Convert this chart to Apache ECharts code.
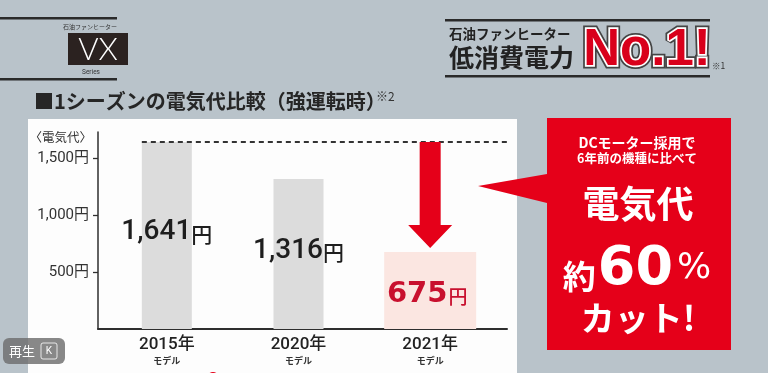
<!DOCTYPE html>
<html><head><meta charset="utf-8">
<script src="https://cdn.jsdelivr.net/npm/echarts@6/dist/echarts.min.js"></script>
<style>html,body{margin:0;padding:0;background:#b9c3ca}#c{width:768px;height:373px}</style>
</head><body><div id="c"></div>
<script>
// ---- data ----
const categories = ['2015年', '2020年', '2021年'];
const oldModelCost = [1641, 1316, null];
const newModelCost = [null, null, 675];
const yTickValues = [500, 1000, 1500];
const yAxisMax = 1728;

const JP = '"Noto Sans CJK JP", sans-serif';
const NUM = 'Roboto, "Noto Sans CJK JP", sans-serif';
const RED = '#e50019';

function fmt(v) { return String(v).replace(/\B(?=(\d{3})+(?!\d))/g, ','); }

const chart = echarts.init(document.getElementById('c'), null, { renderer: 'canvas' });

const gridTop = 132, gridBottom = 44;

function staticGraphics() {
  return [
    // white panel
    { type: 'rect', z: -10, silent: true, shape: { x: 28, y: 119, width: 489, height: 260 }, style: { fill: '#fdfdfd' } },
    // logo top-left
    { type: 'rect', shape: { x: 0, y: 17, width: 117, height: 2.5 }, style: { fill: '#2a2a2a' } },
    { type: 'rect', shape: { x: 0, y: 78, width: 117, height: 2.5 }, style: { fill: '#2a2a2a' } },
    { type: 'text', style: { x: 90, y: 27, text: '石油ファンヒーター', fontSize: 6, fontFamily: JP, fill: '#333', align: 'center', verticalAlign: 'middle' } },
    { type: 'rect', shape: { x: 68, y: 33, width: 60, height: 32 }, style: { fill: '#2b2220' } },
    { type: 'text', style: { x: 98, y: 50, text: 'VX', fontSize: 31, fontWeight: 300, fontFamily: 'Lato, Roboto, sans-serif', fill: '#fff', align: 'center', verticalAlign: 'middle' } },
    { type: 'text', style: { x: 91, y: 72, text: 'Series', fontSize: 6.5, fontFamily: NUM, fill: '#333', align: 'center', verticalAlign: 'middle' } },
    // chart title
    { type: 'text', style: { x: 34, y: 101, text: '■1シーズンの電気代比較（強運転時）', fontSize: 20, fontWeight: 'bold', fontFamily: JP, fill: '#262626', verticalAlign: 'middle' } },
    { type: 'text', style: { x: 376, y: 96, text: '※2', fontSize: 12, fontFamily: JP, fill: '#333', verticalAlign: 'middle' } },
    // header top-right
    { type: 'rect', shape: { x: 445, y: 19, width: 265, height: 2.5 }, style: { fill: '#2a2a2a' } },
    { type: 'rect', shape: { x: 445, y: 75, width: 265, height: 2.5 }, style: { fill: '#2a2a2a' } },
    { type: 'text', style: { x: 449, y: 34, text: '石油ファンヒーター', fontSize: 13.5, fontWeight: 'bold', fontFamily: JP, fill: '#222', verticalAlign: 'middle' } },
    { type: 'text', style: { x: 449, y: 57, text: '低消費電力', fontSize: 25, fontWeight: 'bold', fontFamily: JP, fill: '#222', verticalAlign: 'middle' } },
    { type: 'text', style: { x: 647, y: 51, text: 'No.1!', fontSize: 51, fontWeight: 'bold', fontFamily: '"Liberation Sans", Arial, sans-serif', fill: '#444', stroke: '#444', lineWidth: 7, align: 'center', verticalAlign: 'middle' } },
    { type: 'text', style: { x: 647, y: 51, text: 'No.1!', fontSize: 51, fontWeight: 'bold', fontFamily: '"Liberation Sans", Arial, sans-serif', fill: '#d9001b', stroke: '#fff', lineWidth: 3.5, align: 'center', verticalAlign: 'middle' } },
    { type: 'text', style: { x: 712, y: 66, text: '※1', fontSize: 8.5, fontFamily: JP, fill: '#333', verticalAlign: 'middle' } },
    // callout box
    { type: 'polygon', z: 50, shape: { points: [[547, 118], [731, 118], [731, 350], [547, 350], [547, 203], [478, 186], [547, 174]] }, style: { fill: RED } },
    { type: 'text', z: 51, style: { x: 637, y: 143, text: 'DCモーター採用で', fontSize: 14, fontWeight: 'bold', fontFamily: JP, fill: '#fff', align: 'center', verticalAlign: 'middle' } },
    { type: 'text', z: 51, style: { x: 637, y: 158, text: '6年前の機種に比べて', fontSize: 12.5, fontWeight: 'bold', fontFamily: JP, fill: '#fff', align: 'center', verticalAlign: 'middle' } },
    { type: 'text', z: 51, style: { x: 638, y: 204, text: '電気代', fontSize: 37, fontWeight: 'bold', fontFamily: JP, fill: '#fff', align: 'center', verticalAlign: 'middle' } },
    { type: 'text', z: 51, style: { x: 637, y: 270, text: '{a|約}{b|60}{c|%}', align: 'center', verticalAlign: 'middle',
        rich: { a: { fontSize: 33, fontWeight: 'bold', fontFamily: JP, fill: '#fff', verticalAlign: 'bottom', padding: [0, 2, 4, 0] },
                b: { fontSize: 54, fontWeight: 'bold', fontFamily: '"DejaVu Sans", sans-serif', fill: '#fff' },
                c: { fontSize: 36, fontFamily: '"DejaVu Sans", sans-serif', fill: '#fff', padding: [0, 0, 2, 4] } } } },
    { type: 'text', z: 51, style: { x: 638, y: 318, text: 'カット!', fontSize: 34, fontWeight: 'bold', fontFamily: JP, fill: '#fff', align: 'center', verticalAlign: 'middle' } },
    // player button overlay
    { type: 'rect', z: 90, shape: { x: 3, y: 338, width: 62, height: 26, r: 6 }, style: { fill: 'rgba(110,110,110,0.82)' } },
    { type: 'text', z: 91, style: { x: 9, y: 351, text: '再生', fontSize: 13, fontFamily: JP, fill: '#fff', verticalAlign: 'middle' } },
    { type: 'rect', z: 91, shape: { x: 41, y: 343, width: 16, height: 16, r: 2 }, style: { fill: 'none', stroke: 'rgba(255,255,255,0.8)', lineWidth: 1 } },
    { type: 'text', z: 92, style: { x: 49, y: 351, text: 'K', fontSize: 10, fontFamily: NUM, fill: '#fff', align: 'center', verticalAlign: 'middle' } },
    // partially visible red dot
    { type: 'circle', z: 5, shape: { cx: 213, cy: 378, r: 6 }, style: { fill: RED } }
  ];
}

const option = {
  animation: false,
  backgroundColor: '#b9c3ca',
  grid: [
    { left: 98, width: 409, top: gridTop, bottom: gridBottom },
    { left: 101, width: 395, top: gridTop, bottom: gridBottom }
  ],
  xAxis: [
    { gridIndex: 0, type: 'category', data: [''], axisLine: { show: true, lineStyle: { color: '#2e2e2e', width: 2 } }, axisTick: { show: false }, axisLabel: { show: false }, splitLine: { show: false } },
    { gridIndex: 1, type: 'category', data: categories, axisLine: { show: false }, axisTick: { show: false }, splitLine: { show: false },
      axisLabel: { margin: 6, interval: 0, formatter: v => `{y|${v}}\n{m|モデル}`,
        rich: { y: { fontSize: 17, fontWeight: 500, fontFamily: NUM, color: '#222', lineHeight: 19 },
                m: { fontSize: 9, fontWeight: 'bold', fontFamily: JP, color: '#333', lineHeight: 13 } } } },
    { gridIndex: 1, type: 'category', data: categories, show: false }
  ],
  yAxis: [
    { gridIndex: 0, type: 'value', min: 0, max: yAxisMax,
      name: '〈電気代〉', nameLocation: 'end', nameGap: -5, nameMoveOverlap: false,
      nameTextStyle: { fontSize: 12.5, fontFamily: JP, color: '#333', align: 'right', verticalAlign: 'middle', padding: [0, 6, 0, 0] },
      axisLine: { show: true, lineStyle: { color: '#2e2e2e', width: 1.5 } },
      axisTick: { show: true, inside: false, length: 5, lineStyle: { color: '#2e2e2e', width: 1.3 }, customValues: yTickValues },
      axisLabel: { margin: 9, fontSize: 15, fontFamily: NUM, color: '#333', customValues: yTickValues, formatter: v => fmt(v) + '円' },
      splitLine: { show: false } },
    { gridIndex: 1, type: 'value', min: 0, max: yAxisMax, show: false, splitLine: { show: false } }
  ],
  series: [
    { type: 'bar', xAxisIndex: 1, yAxisIndex: 1, data: oldModelCost, barWidth: 50,
      itemStyle: { color: '#dcdcdc' },
      label: { show: true, position: 'inside', offset: [0, -3], formatter: p => `{n|${fmt(p.value)}}{u|円}`,
        rich: { n: { fontSize: 28, fontWeight: 500, fontFamily: NUM, color: '#1e1e1e' }, u: { fontSize: 21, fontWeight: 500, fontFamily: JP, color: '#1e1e1e', padding: [3, 0, 0, 0] } } } },
    { type: 'bar', xAxisIndex: 2, yAxisIndex: 1, data: newModelCost, barWidth: 92,
      itemStyle: { color: '#fbe6e1' },
      label: { show: true, position: 'inside', offset: [-3, 4], formatter: p => `{n|${fmt(p.value)}}{u|円}`,
        rich: { n: { fontSize: 29, fontWeight: 'bold', fontFamily: '"DejaVu Sans", sans-serif', color: '#c8102e' }, u: { fontSize: 19, fontWeight: 500, fontFamily: JP, color: '#c8102e', padding: [4, 0, 0, 1] } } } }
  ],
  graphic: { elements: staticGraphics() }
};

chart.setOption(option);

// annotations positioned from data through the chart's scales
const topPt = chart.convertToPixel({ seriesIndex: 0 }, [0, oldModelCost[0]]);
const newPt = chart.convertToPixel({ seriesIndex: 1 }, [2, newModelCost[2]]);
const xc = newPt[0];
const yTop = topPt[1];
const yTip = newPt[1] - 4;
const shaftHalf = 10.5, headHalf = 22, headH = 23;
const dyn = [
  { type: 'line', z: 20, shape: { x1: topPt[0] - 25, y1: yTop, x2: 508, y2: yTop }, style: { stroke: '#333', lineWidth: 2, lineDash: [5, 4] } },
  { type: 'polygon', z: 30, shape: { points: [
      [xc - shaftHalf, yTop], [xc + shaftHalf, yTop], [xc + shaftHalf, yTip - headH], [xc + headHalf, yTip - headH],
      [xc, yTip], [xc - headHalf, yTip - headH], [xc - shaftHalf, yTip - headH]] }, style: { fill: RED } }
];
chart.setOption({ graphic: { elements: staticGraphics().concat(dyn) } }, { replaceMerge: ['graphic'] });
</script>
</body></html>
